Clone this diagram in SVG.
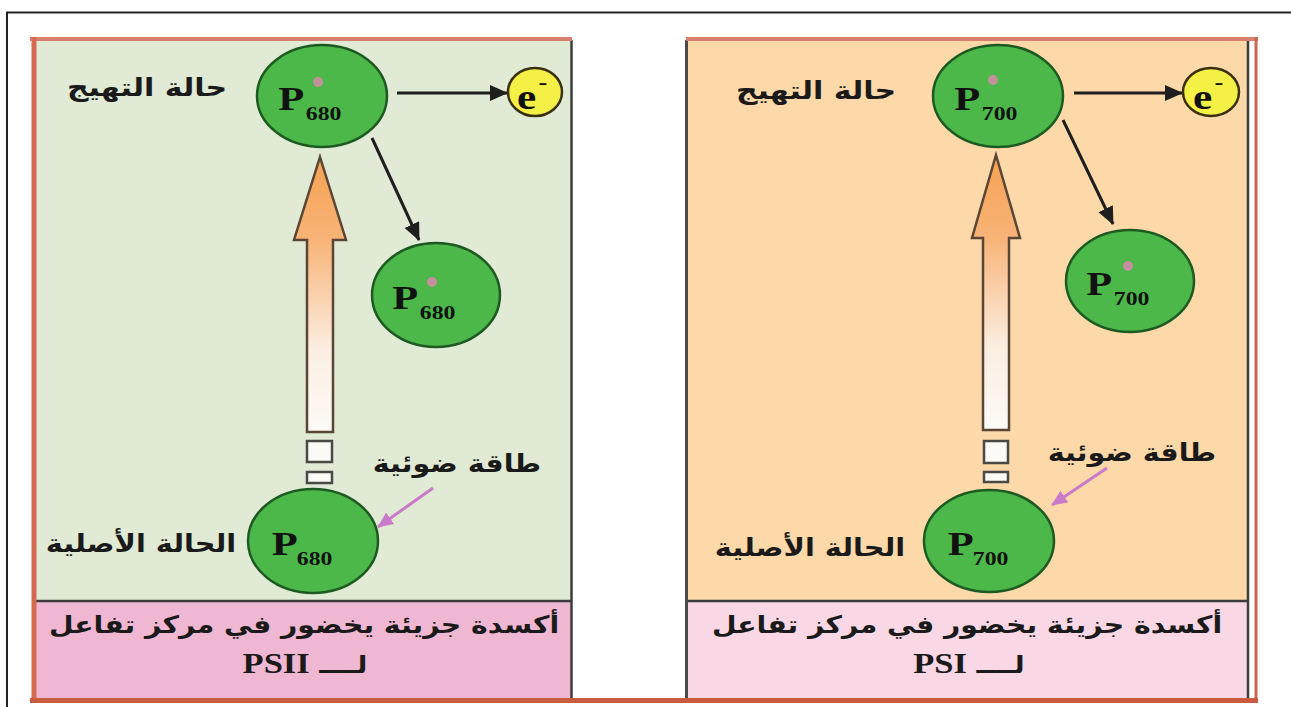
<svg xmlns="http://www.w3.org/2000/svg" width="1291" height="707" viewBox="0 0 1291 707">
  <style>
    .ar { font-family: "DejaVu Sans", "Noto Sans", sans-serif; font-weight: bold; fill: #1a1a1a; }
    .pl { font-family: "Liberation Serif", "DejaVu Serif", serif; font-weight: bold; fill: #111; }
    .pig { fill: #4cb84a; stroke: #1d5a22; stroke-width: 2.5; }
    .dot { fill: #d98aa8; opacity: 0.85; }
    .elec { fill: #f4f046; stroke: #3a3010; stroke-width: 2.5; }
    .blk { stroke: #1e1e1e; stroke-width: 3; fill: none; }
    .pnk { stroke: #c97ac8; stroke-width: 3; fill: none; }
    .beam { stroke: #5a4634; stroke-width: 2.5; }
    .dash { fill: #fbfaf6; stroke: #4a4a44; stroke-width: 2.5; }
    .sep { stroke: #3c3c3c; stroke-width: 2.5; }
  </style>
  <defs>
    <marker id="ahBlack" markerUnits="userSpaceOnUse" markerWidth="20" markerHeight="18" refX="17" refY="8" orient="auto">
      <path d="M0,0 L18,8 L0,16 Z" fill="#1e1e1e"/>
    </marker>
    <marker id="ahPink" markerUnits="userSpaceOnUse" markerWidth="18" markerHeight="16" refX="15" refY="7" orient="auto">
      <path d="M0,0 L16,7 L0,14 Z" fill="#c97ac8"/>
    </marker>
    <linearGradient id="beamFillL" gradientUnits="userSpaceOnUse" x1="0" y1="157" x2="0" y2="432">
      <stop offset="0" stop-color="#f6a253"/>
      <stop offset="0.3" stop-color="#f8b377"/>
      <stop offset="0.7" stop-color="#fbeee2"/>
      <stop offset="1" stop-color="#fcfbf6"/>
    </linearGradient>
    <linearGradient id="beamFillR" gradientUnits="userSpaceOnUse" x1="0" y1="155" x2="0" y2="430">
      <stop offset="0" stop-color="#f6a253"/>
      <stop offset="0.3" stop-color="#f8b377"/>
      <stop offset="0.7" stop-color="#fbeee2"/>
      <stop offset="1" stop-color="#fcfbf6"/>
    </linearGradient>
  </defs>

  <rect x="0" y="0" width="1291" height="707" fill="#ffffff"/>

  <!-- outer page frame -->
  <g id="frame">
    <line x1="6" y1="12.5" x2="1291" y2="12.5" stroke="#222" stroke-width="2"/>
    <line x1="7" y1="12" x2="7" y2="707" stroke="#222" stroke-width="2"/>
  </g>

  <!-- PSII panel -->
  <g id="panel-psii">
    <rect x="36" y="41" width="535" height="559" fill="#e0ead4"/>
    <rect x="36" y="600" width="535" height="98" fill="#f0b7d2"/>
    <line x1="36" y1="601" x2="571" y2="601" class="sep"/>
    <line x1="571.5" y1="40" x2="571.5" y2="699" class="sep"/>
  </g>

  <!-- PSI panel -->
  <g id="panel-psi">
    <rect x="686" y="41" width="562" height="559" fill="#fdd9a9"/>
    <rect x="686" y="600" width="562" height="98" fill="#f9d7e5"/>
    <line x1="686" y1="601" x2="1248" y2="601" class="sep"/>
    <line x1="686.5" y1="40" x2="686.5" y2="699" stroke="#4a4a4a" stroke-width="3"/>
    <line x1="1248" y1="40" x2="1248" y2="699" class="sep"/>
  </g>

  <!-- red border -->
  <g id="border">
    <line x1="30" y1="39" x2="572" y2="39" stroke="#d9806c" stroke-width="4"/>
    <line x1="686" y1="39" x2="1258" y2="39" stroke="#d9806c" stroke-width="4"/>
    <line x1="34" y1="37" x2="34" y2="702" stroke="#d66a50" stroke-width="5"/>
    <line x1="1256" y1="37" x2="1256" y2="702" stroke="#cc6650" stroke-width="3"/>
    <line x1="30" y1="700.5" x2="1258" y2="700.5" stroke="#c95c3e" stroke-width="5"/>
  </g>

  <!-- connectors -->
  <g id="connectors">
    <line x1="397" y1="93" x2="507" y2="93" class="blk" marker-end="url(#ahBlack)"/>
    <line x1="372" y1="138" x2="419" y2="240" class="blk" marker-end="url(#ahBlack)"/>
    <line x1="1074" y1="93" x2="1182" y2="93" class="blk" marker-end="url(#ahBlack)"/>
    <line x1="1063" y1="120" x2="1113" y2="224" class="blk" marker-end="url(#ahBlack)"/>
    <line x1="433" y1="488" x2="378" y2="527" class="pnk" marker-end="url(#ahPink)"/>
    <line x1="1107" y1="468" x2="1052" y2="505" class="pnk" marker-end="url(#ahPink)"/>

    <!-- light-energy beams -->
    <path d="M320,157 L346,240 L333,240 L333,432 L307,432 L307,240 L294,240 Z" fill="url(#beamFillL)" class="beam"/>
    <rect x="307" y="441" width="25" height="21" class="dash"/>
    <rect x="307" y="472" width="25" height="11" class="dash"/>
    <path d="M996,155 L1020,238 L1009,238 L1009,430 L983,430 L983,238 L972,238 Z" fill="url(#beamFillR)" class="beam"/>
    <rect x="984" y="441" width="24" height="22" class="dash"/>
    <rect x="984" y="472" width="24" height="10" class="dash"/>
  </g>

  <!-- PSII pigment states -->
  <g id="p680-excited">
    <ellipse cx="322" cy="96" rx="65" ry="51" class="pig"/>
    <circle cx="318" cy="82" r="5" class="dot"/>
    <g transform="translate(322,96) scale(1.25,1)">
      <text x="-35" y="14" font-size="34" class="pl">P</text>
      <text x="-13" y="24" font-size="19" class="pl">680</text>
    </g>
  </g>
  <g id="p680-oxidized">
    <ellipse cx="436" cy="295" rx="64" ry="52" class="pig"/>
    <circle cx="432" cy="282" r="5" class="dot"/>
    <g transform="translate(436,295) scale(1.25,1)">
      <text x="-35" y="14" font-size="34" class="pl">P</text>
      <text x="-13" y="24" font-size="19" class="pl">680</text>
    </g>
  </g>
  <g id="p680-ground">
    <ellipse cx="313" cy="541" rx="65" ry="52" class="pig"/>
    <g transform="translate(313,541) scale(1.25,1)">
      <text x="-33" y="14" font-size="34" class="pl">P</text>
      <text x="-13" y="24" font-size="19" class="pl">680</text>
    </g>
  </g>
  <g id="electron-psii">
    <ellipse cx="535" cy="92" rx="27" ry="24" class="elec"/>
    <g transform="translate(535,92) scale(1.2,1)">
      <text x="-15" y="17" font-size="36" class="pl">e</text>
      <text x="3" y="-3" font-size="22" class="pl">-</text>
    </g>
  </g>

  <!-- PSI pigment states -->
  <g id="p700-excited">
    <ellipse cx="998" cy="96" rx="65" ry="51" class="pig"/>
    <circle cx="993" cy="80" r="5" class="dot"/>
    <g transform="translate(998,96) scale(1.25,1)">
      <text x="-35" y="14" font-size="34" class="pl">P</text>
      <text x="-13" y="24" font-size="19" class="pl">700</text>
    </g>
  </g>
  <g id="p700-oxidized">
    <ellipse cx="1130" cy="281" rx="64" ry="51" class="pig"/>
    <circle cx="1128" cy="266" r="5" class="dot"/>
    <g transform="translate(1130,281) scale(1.25,1)">
      <text x="-35" y="14" font-size="34" class="pl">P</text>
      <text x="-13" y="24" font-size="19" class="pl">700</text>
    </g>
  </g>
  <g id="p700-ground">
    <ellipse cx="989" cy="541" rx="65" ry="51" class="pig"/>
    <g transform="translate(989,541) scale(1.25,1)">
      <text x="-33" y="14" font-size="34" class="pl">P</text>
      <text x="-13" y="24" font-size="19" class="pl">700</text>
    </g>
  </g>
  <g id="electron-psi">
    <ellipse cx="1211" cy="92" rx="28" ry="24" class="elec"/>
    <g transform="translate(1211,92) scale(1.2,1)">
      <text x="-15" y="17" font-size="36" class="pl">e</text>
      <text x="3" y="-3" font-size="22" class="pl">-</text>
    </g>
  </g>

  <!-- labels -->
  <g id="labels-psii">
    <text transform="translate(147,96) scale(1.2,1)" font-size="25" text-anchor="middle" direction="rtl" class="ar">حالة التهيج</text>
    <text transform="translate(457,472) scale(1.14,1)" font-size="25" text-anchor="middle" direction="rtl" class="ar">طاقة ضوئية</text>
    <text transform="translate(141,552) scale(1.15,1)" font-size="25" text-anchor="middle" direction="rtl" class="ar">الحالة الأصلية</text>
    <text transform="translate(304,633) scale(1.18,1)" font-size="24" text-anchor="middle" direction="rtl" class="ar">أكسدة جزيئة يخضور في مركز تفاعل</text>
    <text transform="translate(305,673) scale(1.15,1)" font-size="24" text-anchor="middle" direction="rtl" class="ar">لــــ <tspan font-family="Liberation Serif, serif" font-size="30">PSII</tspan></text>
  </g>
  <g id="labels-psi">
    <text transform="translate(816,99) scale(1.2,1)" font-size="25" text-anchor="middle" direction="rtl" class="ar">حالة التهيج</text>
    <text transform="translate(1132,461) scale(1.14,1)" font-size="25" text-anchor="middle" direction="rtl" class="ar">طاقة ضوئية</text>
    <text transform="translate(810,556) scale(1.15,1)" font-size="25" text-anchor="middle" direction="rtl" class="ar">الحالة الأصلية</text>
    <text transform="translate(967,633) scale(1.18,1)" font-size="24" text-anchor="middle" direction="rtl" class="ar">أكسدة جزيئة يخضور في مركز تفاعل</text>
    <text transform="translate(969,673) scale(1.15,1)" font-size="24" text-anchor="middle" direction="rtl" class="ar">لــــ <tspan font-family="Liberation Serif, serif" font-size="30">PSI</tspan></text>
  </g>
</svg>
